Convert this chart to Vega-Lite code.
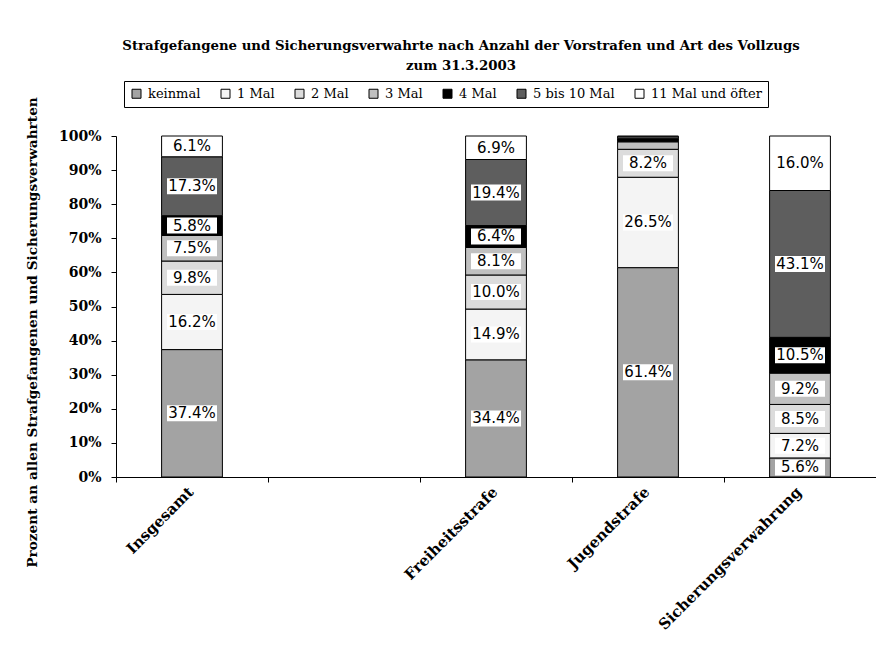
{
  "$schema": "https://vega.github.io/schema/vega-lite/v6.json",
  "width": 760,
  "height": 341,
  "autosize": {"type": "none"},
  "padding": {"left": 116, "top": 136, "right": 0, "bottom": 171},
  "background": "white",
  "config": {
    "view": {"stroke": null},
    "axisY": {
      "title": "Prozent an allen Strafgefangenen und Sicherungsverwahrten",
      "format": ".0%",
      "values": [0, 0.1, 0.2, 0.3, 0.4, 0.5, 0.6, 0.7, 0.8, 0.9, 1],
      "grid": false,
      "labelFont": "DejaVu Serif",
      "labelFontWeight": "bold",
      "labelFontSize": 14,
      "labelColor": "black",
      "labelPadding": 10,
      "tickSize": 5,
      "tickColor": "black",
      "domainColor": "black",
      "titleFont": "DejaVu Serif",
      "titleFontWeight": "bold",
      "titleFontSize": 13.7,
      "titleColor": "black",
      "titleAngle": 270,
      "titleAlign": "center",
      "titleBaseline": "middle",
      "titleX": -84,
      "titleY": 196
    }
  },
  "title": {
    "text": ["Strafgefangene und Sicherungsverwahrte nach Anzahl der Vorstrafen und Art des Vollzugs", "zum 31.3.2003"],
    "font": "DejaVu Serif",
    "fontSize": 13.3,
    "fontWeight": "bold",
    "color": "black",
    "anchor": "middle",
    "dx": -35,
    "offset": 8,
    "lineHeight": 20
  },
  "data": {
    "values": [
      {"vollzug": "Insgesamt", "vorstrafen": "keinmal", "anteil": 37.4},
      {"vollzug": "Insgesamt", "vorstrafen": "1 Mal", "anteil": 16.2},
      {"vollzug": "Insgesamt", "vorstrafen": "2 Mal", "anteil": 9.8},
      {"vollzug": "Insgesamt", "vorstrafen": "3 Mal", "anteil": 7.5},
      {"vollzug": "Insgesamt", "vorstrafen": "4 Mal", "anteil": 5.8},
      {"vollzug": "Insgesamt", "vorstrafen": "5 bis 10 Mal", "anteil": 17.3},
      {"vollzug": "Insgesamt", "vorstrafen": "11 Mal und öfter", "anteil": 6.1},
      {"vollzug": "Freiheitsstrafe", "vorstrafen": "keinmal", "anteil": 34.4},
      {"vollzug": "Freiheitsstrafe", "vorstrafen": "1 Mal", "anteil": 14.9},
      {"vollzug": "Freiheitsstrafe", "vorstrafen": "2 Mal", "anteil": 10.0},
      {"vollzug": "Freiheitsstrafe", "vorstrafen": "3 Mal", "anteil": 8.1},
      {"vollzug": "Freiheitsstrafe", "vorstrafen": "4 Mal", "anteil": 6.4},
      {"vollzug": "Freiheitsstrafe", "vorstrafen": "5 bis 10 Mal", "anteil": 19.4},
      {"vollzug": "Freiheitsstrafe", "vorstrafen": "11 Mal und öfter", "anteil": 6.9},
      {"vollzug": "Jugendstrafe", "vorstrafen": "keinmal", "anteil": 61.4},
      {"vollzug": "Jugendstrafe", "vorstrafen": "1 Mal", "anteil": 26.5},
      {"vollzug": "Jugendstrafe", "vorstrafen": "2 Mal", "anteil": 8.2},
      {"vollzug": "Jugendstrafe", "vorstrafen": "3 Mal", "anteil": 2.2},
      {"vollzug": "Jugendstrafe", "vorstrafen": "4 Mal", "anteil": 0.9},
      {"vollzug": "Jugendstrafe", "vorstrafen": "5 bis 10 Mal", "anteil": 0.6},
      {"vollzug": "Jugendstrafe", "vorstrafen": "11 Mal und öfter", "anteil": 0.2},
      {"vollzug": "Sicherungsverwahrung", "vorstrafen": "keinmal", "anteil": 5.6},
      {"vollzug": "Sicherungsverwahrung", "vorstrafen": "1 Mal", "anteil": 7.2},
      {"vollzug": "Sicherungsverwahrung", "vorstrafen": "2 Mal", "anteil": 8.5},
      {"vollzug": "Sicherungsverwahrung", "vorstrafen": "3 Mal", "anteil": 9.2},
      {"vollzug": "Sicherungsverwahrung", "vorstrafen": "4 Mal", "anteil": 10.5},
      {"vollzug": "Sicherungsverwahrung", "vorstrafen": "5 bis 10 Mal", "anteil": 43.1},
      {"vollzug": "Sicherungsverwahrung", "vorstrafen": "11 Mal und öfter", "anteil": 16.0}
    ]
  },
  "transform": [
    {"stack": "anteil", "groupby": ["vollzug"], "as": ["v0", "v1"], "offset": "normalize"},
    {"calculate": "(datum.v0 + datum.v1) / 2", "as": "mid"},
    {"calculate": "format(datum.anteil, '.1f') + '%'", "as": "label"}
  ],
  "layer": [
    {
      "mark": {"type": "bar", "stroke": "black", "strokeWidth": 1, "width": {"band": 0.4}},
      "encoding": {
        "x": {
          "field": "vollzug",
          "type": "nominal",
          "scale": {"domain": ["Insgesamt", " ", "Freiheitsstrafe", "Jugendstrafe", "Sicherungsverwahrung"], "paddingInner": 0, "paddingOuter": 0},
          "axis": {
            "title": null,
            "labelAngle": -45,
            "labelFont": "DejaVu Serif",
            "labelFontWeight": "bold",
            "labelFontSize": 15,
            "labelColor": "black",
            "labelPadding": 7,
            "labelOffset": -6,
            "labelLimit": 0,
            "ticks": false,
            "domainColor": "black"
          }
        },
        "y": {
          "field": "v0",
          "type": "quantitative",
          "scale": {"domain": [0, 1]},
          "axis": {"title": "Prozent an allen Strafgefangenen und Sicherungsverwahrten"}
        },
        "y2": {"field": "v1"},
        "color": {
          "field": "vorstrafen",
          "type": "nominal",
          "scale": {
            "domain": ["keinmal", "1 Mal", "2 Mal", "3 Mal", "4 Mal", "5 bis 10 Mal", "11 Mal und öfter"],
            "range": ["#a3a3a3", "#f4f4f4", "#dcdcdc", "#c0c0c0", "#000000", "#5e5e5e", "#ffffff"]
          },
          "legend": {
            "orient": "none",
            "legendX": 8,
            "legendY": -55,
            "direction": "horizontal",
            "title": null,
            "strokeColor": "black",
            "fillColor": "white",
            "padding": 6,
            "symbolType": "square",
            "symbolSize": 81,
            "symbolStrokeColor": "black",
            "symbolStrokeWidth": 1,
            "symbolOpacity": 1,
            "labelFont": "DejaVu Serif",
            "labelFontSize": 13,
            "labelColor": "black",
            "labelOffset": 5,
            "columnPadding": 18
          }
        }
      }
    },
    {
      "transform": [{"filter": "datum.anteil > 4"}],
      "mark": {"type": "point", "shape": "M-1,-0.32L1,-0.32L1,0.32L-1,0.32Z", "size": 2500, "filled": true, "fill": "white", "opacity": 1, "strokeWidth": 0},
      "encoding": {
        "x": {"field": "vollzug", "type": "nominal", "axis": null},
        "y": {"field": "mid", "type": "quantitative", "axis": {"title": "Prozent an allen Strafgefangenen und Sicherungsverwahrten"}}
      }
    },
    {
      "transform": [{"filter": "datum.anteil > 4"}],
      "mark": {"type": "text", "font": "DejaVu Sans", "fontSize": 15, "color": "black", "baseline": "middle", "align": "center"},
      "encoding": {
        "x": {
          "field": "vollzug",
          "type": "nominal",
          "axis": {"orient": "bottom", "title": null, "labels": false, "domain": false, "ticks": true, "tickSize": 5, "tickColor": "black", "bandPosition": 0}
        },
        "y": {"field": "mid", "type": "quantitative", "axis": {"title": "Prozent an allen Strafgefangenen und Sicherungsverwahrten"}},
        "text": {"field": "label", "type": "nominal"}
      }
    }
  ],
  "resolve": {"axis": {"x": "independent"}}
}
